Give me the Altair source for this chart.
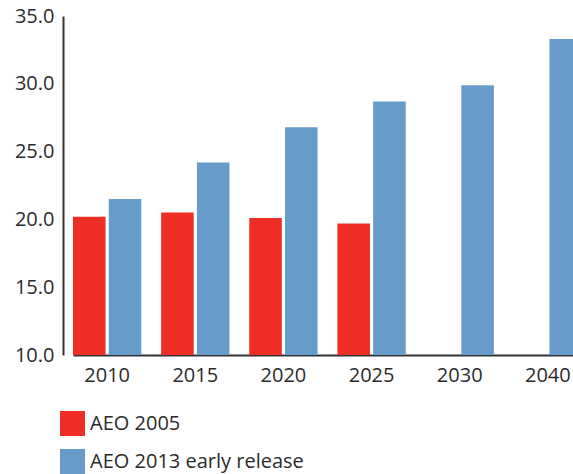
import altair as alt
import pandas as pd

# Projection years and the two outlook series
years = ["2010", "2015", "2020", "2025", "2030", "2040"]
aeo2005 = [20.2, 20.5, 20.1, 19.7, None, None]
aeo2013 = [21.5, 24.2, 26.8, 28.7, 29.9, 33.3]
series_names = ["AEO 2005", "AEO 2013 early release"]
series_colors = ["#EE2E24", "#679BCA"]
y_ticks = [10, 15, 20, 25, 30, 35]

rows = []
for yr, a, b in zip(years, aeo2005, aeo2013):
    if a is not None:
        rows.append({"year": yr, "series": series_names[0], "value": a})
    if b is not None:
        rows.append({"year": yr, "series": series_names[1], "value": b})
df = pd.DataFrame(rows)

FONT = "Open Sans"
TEXT = "#2b2b2b"

chart = (
    alt.Chart(df)
    .mark_bar(clip=True)
    .encode(
        x=alt.X(
            "year:N",
            sort=years,
            scale=alt.Scale(range=[10, 519], paddingInner=0.225, paddingOuter=0),
            axis=alt.Axis(
                title=None,
                labelAngle=0,
                ticks=False,
                grid=False,
                labelPadding=10,
                labelFontSize=20,
                labelFont=FONT,
                labelColor=TEXT,
                domainColor="#333333",
                domainWidth=2,
            ),
        ),
        xOffset=alt.XOffset(
            "series:N",
            sort=series_names,
            scale=alt.Scale(domain=series_names, paddingInner=0.09),
        ),
        y=alt.Y(
            "value:Q",
            scale=alt.Scale(domain=[10, 35], zero=False, nice=False),
            axis=alt.Axis(
                title=None,
                values=y_ticks,
                format=".1f",
                grid=False,
                ticks=False,
                labelPadding=9,
                labelFontSize=20,
                labelFont=FONT,
                labelColor=TEXT,
                domainColor="#333333",
                domainWidth=2,
            ),
        ),
        color=alt.Color(
            "series:N",
            sort=series_names,
            scale=alt.Scale(domain=series_names, range=series_colors),
            legend=alt.Legend(
                title=None,
                orient="none",
                legendX=-3,
                legendY=395,
                direction="vertical",
                symbolType="square",
                symbolSize=625,
                symbolStrokeWidth=0,
                symbolOpacity=1,
                labelFontSize=20,
                labelFont=FONT,
                labelColor=TEXT,
                labelOffset=5,
                labelLimit=0,
                rowPadding=13,
                padding=0,
            ),
        ),
    )
    .properties(
        width=510,
        height=339,
        padding={"left": 63, "top": 16, "right": 0, "bottom": 119},
        autosize=alt.AutoSizeParams(type="none"),
        background="white",
    )
    .configure_view(stroke=None)
)

chart.save("out.html", embed_options={"renderer": "svg", "actions": False})
